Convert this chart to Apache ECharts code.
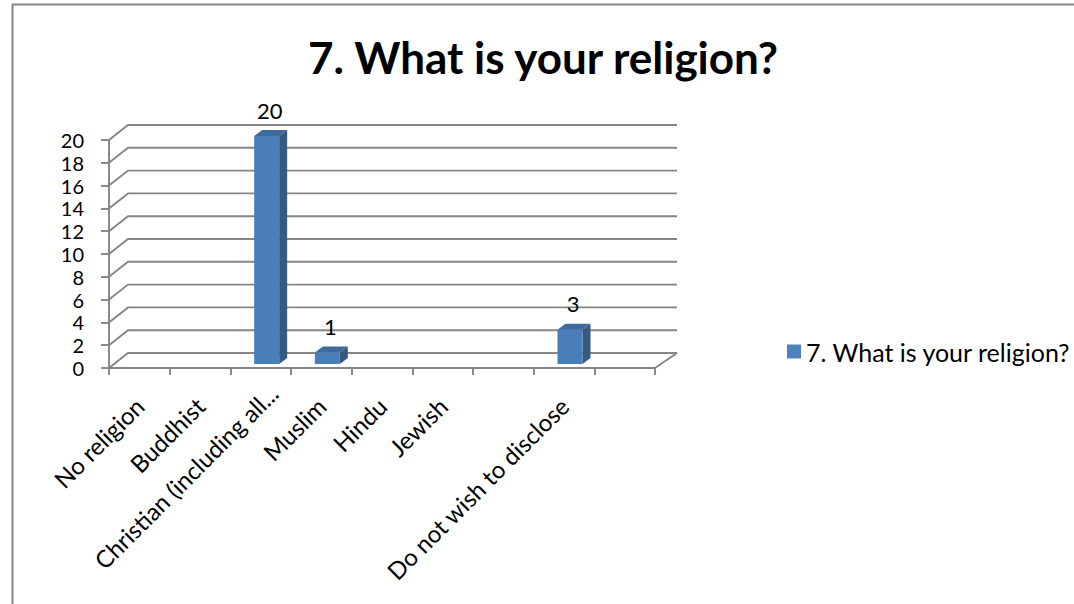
<!DOCTYPE html>
<html><head><meta charset="utf-8">
<script src="https://cdn.jsdelivr.net/npm/echarts@6/dist/echarts.min.js"></script>
<style>html,body{margin:0;padding:0;background:#fff}#c{width:1074px;height:604px}</style>
</head><body><div id="c"></div>
<script>
const categories = ['No religion','Buddhist','Christian (including all...','Muslim','Hindu','Jewish','','Do not wish to disclose',''];
const values = [0,0,20,1,0,0,0,3,0];
const yTicks = [0,2,4,6,8,10,12,14,16,18,20];
const seriesName = '7. What is your religion?';
const titleText = '7. What is your religion?';

const FONT = 'Lato';
const GRAY = '#858585';
const DL = [19,-15], DR = [22,-15];

const chart = echarts.init(document.getElementById('c'), null, {renderer:'svg'});
chart.setOption({
  backgroundColor:'#fff',
  animation:false,
  graphic:[
    {type:'line', shape:{x1:12.5,y1:4,x2:12.5,y2:604}, style:{stroke:GRAY,lineWidth:2}},
    {type:'line', shape:{x1:12,y1:4.5,x2:1074,y2:4.5}, style:{stroke:GRAY,lineWidth:2}},
    {type:'text', x:543, y:57, style:{text:titleText, font:'bold 44px '+FONT, fill:'#000', textAlign:'center', textVerticalAlign:'middle'}}
  ],
  legend:{
    data:[seriesName], left:782, top:334, icon:'rect', itemWidth:14, itemHeight:14,
    textStyle:{fontFamily:FONT, fontSize:25, color:'#000'}, selectedMode:false
  },
  grid:[
    {left:109, top:140, right:419, bottom:236},
    {left:122, top:140, right:406, bottom:236}
  ],
  xAxis:[{
    type:'category', data:categories, gridIndex:0,
    axisLine:{lineStyle:{color:GRAY,width:1.9}},
    axisTick:{show:true, interval:0, length:7, lineStyle:{color:GRAY,width:1.9}},
    axisLabel:{show:false, interval:0}
  },{
    type:'category', data:categories, gridIndex:1,
    axisLine:{show:false}, axisTick:{show:false},
    axisLabel:{
      rotate:45, margin:21, interval:0, fontFamily:FONT, fontSize:24, color:'#000',
      formatter:function(v, i){ return i === 2 ? '{b|'+v+'}' : '{a|'+v+'}'; },
      rich:{
        a:{fontFamily:FONT, fontSize:24, color:'#000', padding:[0,18,0,0]},
        b:{fontFamily:FONT, fontSize:24, color:'#000'}
      }
    }
  }],
  yAxis:[{
    type:'value', min:0, max:20, interval:2, gridIndex:0,
    axisLine:{show:true, lineStyle:{color:GRAY,width:1.9}},
    axisTick:{show:true, length:8, lineStyle:{color:GRAY,width:1.9}},
    splitLine:{show:false},
    axisLabel:{margin:25, fontFamily:FONT, fontSize:20, lineHeight:20, color:'#000'}
  },{
    type:'value', min:0, max:20, interval:2, gridIndex:1, show:false
  }],
  series:[
    {
      type:'custom', name:'grid3d', silent:true, z:1, xAxisIndex:0, yAxisIndex:0,
      data: yTicks.map(v=>[0,v]), encode:{x:0,y:1},
      renderItem:function(params, api){
        const cs = params.coordSys;
        const x0 = cs.x, w = cs.width;
        const y = api.coord([0, api.value(1)])[1];
        const children = [{
          type:'polyline',
          shape:{points:[[x0,y],[x0+DL[0],y+DL[1]],[x0+w+DR[0],y+DR[1]]]},
          style:{stroke:GRAY, lineWidth:1.9, fill:null}
        }];
        if (api.value(1) === 0) {
          children.push({type:'line', shape:{x1:x0+w,y1:y,x2:x0+w+DR[0],y2:y+DR[1]}, style:{stroke:GRAY,lineWidth:1.9}});
        }
        return {type:'group', children:children};
      }
    },
    {
      type:'custom', name:seriesName, z:5, xAxisIndex:0, yAxisIndex:0,
      itemStyle:{color:'#4F81BD'},
      data: values.map((v,i)=>[i,v]), encode:{x:0,y:1},
      renderItem:function(params, api){
        const v = api.value(1);
        if (!v) return null;
        const i = api.value(0);
        const b = api.coord([i,0]);
        const t = api.coord([i,v]);
        const left = b[0]-6.5, right = b[0]+18.5;
        const bottom = b[1]-4, top = t[1]-4;
        const dx = 8, dy = -6;
        return {type:'group', children:[
          {type:'polygon', shape:{points:[[right,top],[right+dx,top+dy],[right+dx,bottom+dy],[right,bottom]]}, style:{fill:'#36597F'}},
          {type:'polygon', shape:{points:[[left,top],[left+dx,top+dy],[right+dx,top+dy],[right,top]]}, style:{fill:'#3F6A9C'}},
          {type:'rect', shape:{x:left,y:top,width:right-left,height:bottom-top}, style:{fill:'#4A7EBB'}},
          {type:'text', x:(left+right)/2+3, y:top+dy-20, style:{text:String(v), font:'22px '+FONT, fill:'#000', textAlign:'center', textVerticalAlign:'middle'}}
        ]};
      }
    }
  ]
});
</script>
</body></html>
